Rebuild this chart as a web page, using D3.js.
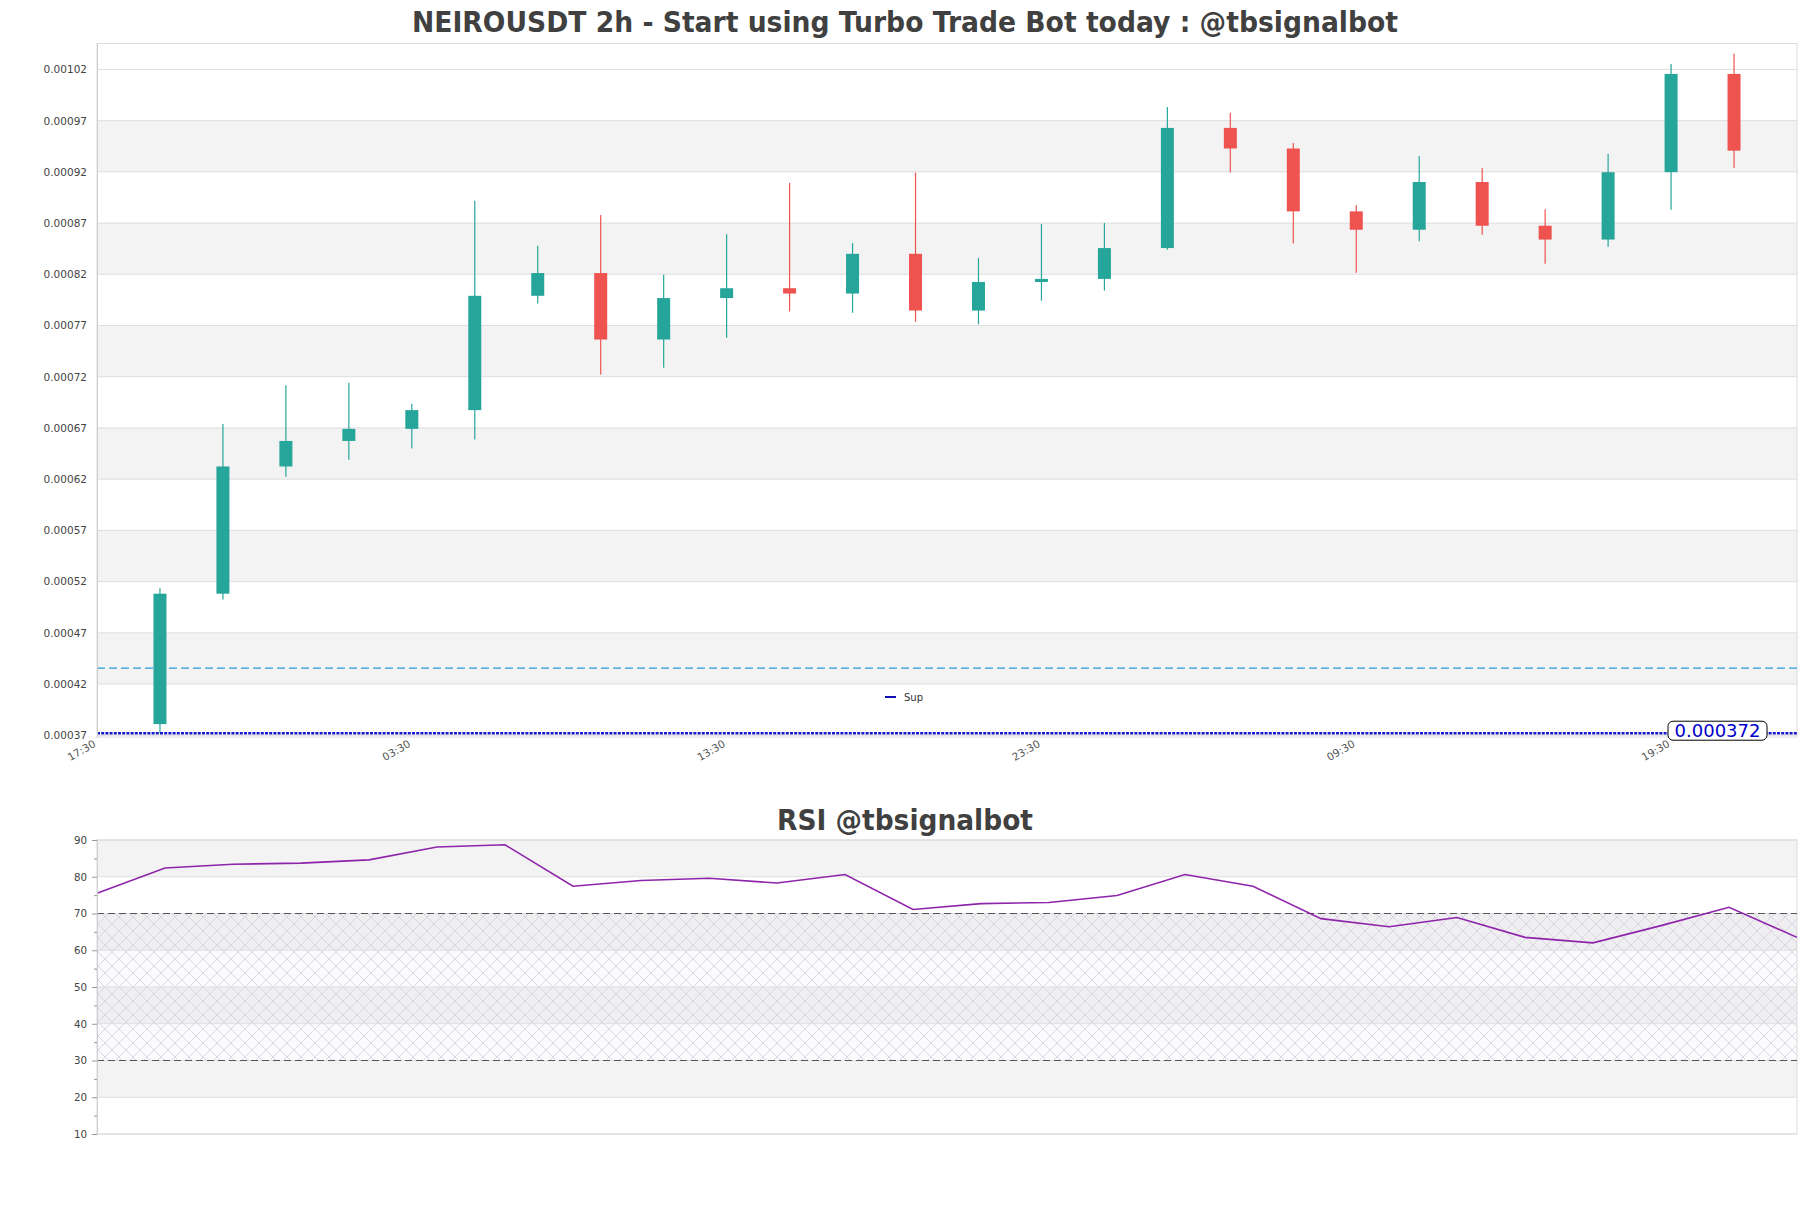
<!DOCTYPE html>
<html><head><meta charset="utf-8">
<script src="https://cdn.jsdelivr.net/npm/d3@7"></script>
<style>body{margin:0;background:#fff;} svg{display:block;font-family:"DejaVu Sans",sans-serif;}</style>
</head><body><svg id="c" width="1811" height="1208"></svg>
<script>
// ---------- data ----------
const timeLabels = ["17:30","19:30","21:30","23:30","01:30","03:30","05:30","07:30","09:30","11:30","13:30","15:30","17:30","19:30","21:30","23:30","01:30","03:30","05:30","07:30","09:30","11:30","13:30","15:30","17:30","19:30","21:30"];
const candleIndex = [1,2,3,4,5,6,7,8,9,10,11,12,13,14,15,16,17,18,19,20,21,22,23,24,25,26];
const opens  = [0.0003809,0.0005082,0.0006324,0.0006573,0.0006691,0.0006874,0.0007990,0.0008212,0.0007563,0.0007968,0.0008064,0.0008012,0.0008400,0.0007846,0.0008125,0.0008155,0.0008456,0.0009629,0.0009428,0.0008814,0.0008635,0.0009101,0.0008674,0.0008539,0.0009197,0.0010156];
const highs  = [0.0005134,0.0006739,0.0007118,0.0007140,0.0006935,0.0008918,0.0008478,0.0008779,0.0008195,0.0008591,0.0009093,0.0008504,0.0009193,0.0008360,0.0008692,0.0008700,0.0009834,0.0009777,0.0009481,0.0008875,0.0009354,0.0009237,0.0008835,0.0009376,0.0010252,0.0010353];
const lows   = [0.0003720,0.0005025,0.0006224,0.0006390,0.0006499,0.0006586,0.0007916,0.0007222,0.0007288,0.0007580,0.0007837,0.0007824,0.0007737,0.0007711,0.0007942,0.0008042,0.0008439,0.0009193,0.0008500,0.0008216,0.0008522,0.0008587,0.0008304,0.0008469,0.0008831,0.0009237];
const closes = [0.0005082,0.0006324,0.0006573,0.0006691,0.0006874,0.0007990,0.0008212,0.0007563,0.0007968,0.0008064,0.0008012,0.0008400,0.0007846,0.0008125,0.0008155,0.0008456,0.0009629,0.0009428,0.0008814,0.0008635,0.0009101,0.0008674,0.0008539,0.0009197,0.0010156,0.0009407];
const priceTicks = [0.00037,0.00042,0.00047,0.00052,0.00057,0.00062,0.00067,0.00072,0.00077,0.00082,0.00087,0.00092,0.00097,0.00102];
const timeTickIndex = [0,5,10,15,20,25];
const supportLevel = 0.000372;
const dashedLevel = 0.0004356;
const rsiValues = [75.5,82.4,83.4,83.7,84.6,88.1,88.7,77.4,79.0,79.6,78.3,80.6,71.1,72.7,73.0,74.9,80.6,77.4,68.6,66.4,68.9,63.5,62.0,66.7,71.7,63.5];
const rsiTicks = [10,20,30,40,50,60,70,80,90];
const rsiMinor = [15,25,35,45,55,65,75,85];
const rsiLevels = [70,30];
const titleMain = "NEIROUSDT 2h - Start using Turbo Trade Bot today : @tbsignalbot";
const titleRsi = "RSI @tbsignalbot";

// ---------- layout ----------
const L = 97, R = 1797;
const svg = d3.select("#c");
const up = "#26a69a", down = "#ef5350";

const x = d3.scaleLinear().domain([0, 27]).range([L, R]);
const y = d3.scaleLinear().domain([0.0003683, 0.0010453]).range([737, 43.5]);

svg.append("text").attr("x", 905).attr("y", 32).attr("text-anchor","middle")
  .attr("font-size", 28).attr("font-weight","bold").attr("fill","#404040")
  .attr("textLength", 986).attr("lengthAdjust","spacingAndGlyphs").text(titleMain);

const gMain = svg.append("g");
for (let k = 0; k < priceTicks.length - 1; k++) {
  if (k % 2 === 1) {
    gMain.append("rect").attr("x", L).attr("width", R - L)
      .attr("y", y(priceTicks[k+1])).attr("height", y(priceTicks[k]) - y(priceTicks[k+1]))
      .attr("fill", "#f3f3f3");
  }
}
gMain.selectAll("line.grid").data(priceTicks).join("line")
  .attr("x1", L).attr("x2", R).attr("y1", d => y(d)).attr("y2", d => y(d))
  .attr("stroke", "#dedede").attr("stroke-width", 1);
gMain.append("rect").attr("x", L).attr("y", 43.5).attr("width", R - L).attr("height", 737 - 43.5)
  .attr("fill", "none").attr("stroke", "#dcdcdc").attr("stroke-width", 1);

const yAxis = d3.axisLeft(y).tickValues(priceTicks).tickFormat(d => d.toFixed(5)).tickSize(0).tickPadding(10);
const ya = svg.append("g").attr("transform", `translate(${L},0)`).call(yAxis);
ya.select(".domain").attr("stroke", "#cfcfcf");
ya.selectAll("text").attr("font-size", 10.5).attr("fill", "#444").attr("font-family","DejaVu Sans");

const xAxis = d3.axisBottom(x).tickValues(timeTickIndex).tickFormat(i => timeLabels[i]).tickSize(0);
const xa = svg.append("g").attr("transform", `translate(0,737)`).call(xAxis);
xa.select(".domain").remove();
xa.selectAll("text").attr("font-size", 10.5).attr("fill", "#555").attr("font-family","DejaVu Sans")
  .attr("text-anchor","end").attr("dy", null).attr("y", 0)
  .attr("transform", "translate(-1,9) rotate(-30)");

gMain.append("line").attr("x1", L).attr("x2", R).attr("y1", y(dashedLevel)).attr("y2", y(dashedLevel))
  .attr("stroke", "#2a9fd6").attr("stroke-width", 1.2).attr("stroke-dasharray", "8,4");

const bw = 13;
const cg = gMain.append("g");
candleIndex.forEach((ci, j) => {
  const col = closes[j] >= opens[j] ? up : down;
  const cx = x(ci);
  cg.append("line").attr("x1", cx).attr("x2", cx).attr("y1", y(highs[j])).attr("y2", y(lows[j]))
    .attr("stroke", col).attr("stroke-width", 1.2);
  const top = y(Math.max(opens[j], closes[j])), bot = y(Math.min(opens[j], closes[j]));
  cg.append("rect").attr("x", cx - bw/2).attr("width", bw).attr("y", top).attr("height", Math.max(bot - top, 1.5))
    .attr("fill", col);
});

gMain.append("line").attr("x1", L).attr("x2", R).attr("y1", y(supportLevel)).attr("y2", y(supportLevel))
  .attr("stroke", "#1a1acc").attr("stroke-width", 2.4).attr("stroke-dasharray", "3,1.2");

svg.append("line").attr("x1", 885).attr("x2", 896).attr("y1", 697).attr("y2", 697)
  .attr("stroke", "#1010b0").attr("stroke-width", 2);
svg.append("text").attr("x", 904).attr("y", 700.5).attr("font-size", 10).attr("fill", "#333").text("Sup");

const lbX = 1717.5, lbY = y(supportLevel);
svg.append("rect").attr("x", 1668).attr("y", lbY - 12).attr("width", 99).attr("height", 19).attr("rx", 5)
  .attr("fill", "#fff").attr("stroke", "#000").attr("stroke-width", 1);
svg.append("text").attr("x", lbX).attr("y", lbY + 4).attr("text-anchor","middle")
  .attr("font-size", 18).attr("fill", "#0000cc").text(supportLevel.toFixed(6));

// ---------- RSI ----------
svg.append("text").attr("x", 905).attr("y", 830).attr("text-anchor","middle")
  .attr("font-size", 28).attr("font-weight","bold").attr("fill","#404040")
  .attr("textLength", 256).attr("lengthAdjust","spacingAndGlyphs").text(titleRsi);

const xr = d3.scaleLinear().domain([0, rsiValues.length - 1]).range([L, R]);
const yr = d3.scaleLinear().domain([10, 90]).range([1134, 840]);
const gR = svg.append("g");

const defs = svg.append("defs");
const pat = defs.append("pattern").attr("id","hatch").attr("patternUnits","userSpaceOnUse")
  .attr("width", 14).attr("height", 14);
pat.append("path").attr("d","M0,0L14,14M14,0L0,14M-7,7L7,21M7,-7L21,7M-7,7L7,-7M7,21L21,7")
  .attr("stroke","#d8cde0").attr("stroke-width",0.8).attr("fill","none");

for (let k = 0; k < rsiTicks.length - 1; k++) {
  if (k % 2 === 1) {
    gR.append("rect").attr("x", L).attr("width", R - L)
      .attr("y", yr(rsiTicks[k+1])).attr("height", yr(rsiTicks[k]) - yr(rsiTicks[k+1]))
      .attr("fill", "#f3f3f3");
  }
}
gR.append("rect").attr("x", L).attr("width", R - L).attr("y", yr(70)).attr("height", yr(30) - yr(70))
  .attr("fill", "#b89cc8").attr("fill-opacity", 0.05);
gR.append("rect").attr("x", L).attr("width", R - L).attr("y", yr(70)).attr("height", yr(30) - yr(70))
  .attr("fill", "url(#hatch)");
gR.selectAll("line.g").data(rsiTicks).join("line")
  .attr("x1", L).attr("x2", R).attr("y1", d => yr(d)).attr("y2", d => yr(d))
  .attr("stroke", "#dedede").attr("stroke-width", 1);
gR.append("rect").attr("x", L).attr("y", 840).attr("width", R - L).attr("height", 294)
  .attr("fill","none").attr("stroke","#dcdcdc").attr("stroke-width",1);

rsiLevels.forEach(v => {
  gR.append("line").attr("x1", L).attr("x2", R).attr("y1", yr(v)).attr("y2", yr(v))
    .attr("stroke", "#555").attr("stroke-width", 1.2).attr("stroke-dasharray", "7,4");
});

const yrAxis = d3.axisLeft(yr).tickValues(rsiTicks).tickSize(5).tickPadding(5);
const yra = svg.append("g").attr("transform", `translate(${L},0)`).call(yrAxis);
yra.select(".domain").attr("stroke", "#cfcfcf");
yra.selectAll(".tick line").attr("stroke", "#999");
yra.selectAll("text").attr("font-size", 10.3).attr("fill", "#444").attr("font-family","DejaVu Sans");
const yrMinor = d3.axisLeft(yr).tickValues(rsiMinor).tickSize(3).tickFormat("");
const yrm = svg.append("g").attr("transform", `translate(${L},0)`).call(yrMinor);
yrm.select(".domain").remove();
yrm.selectAll(".tick line").attr("stroke", "#999");

gR.append("path").datum(rsiValues)
  .attr("d", d3.line().x((d, i) => xr(i)).y(d => yr(d)))
  .attr("fill","none").attr("stroke","#8e24aa").attr("stroke-width", 1.6);
</script></body></html>
